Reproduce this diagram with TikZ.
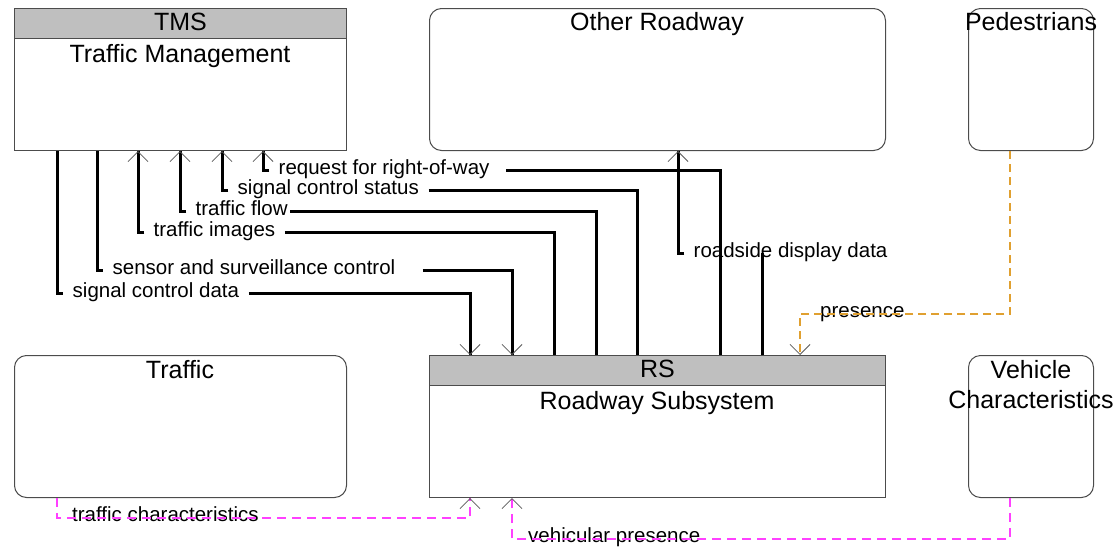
\documentclass[tikz,border=0pt]{standalone}
\usepackage{fontspec}
\setmainfont{Liberation Sans}
\usetikzlibrary{arrows.meta, positioning}

\definecolor{orng}{HTML}{E0A030}
\definecolor{mgnt}{HTML}{FF40FF}

\begin{document}
\begin{tikzpicture}[
    x=1pt, y=-1pt,
    font=\fontsize{20.5}{24}\selectfont,
    ent/.style={draw=black!70, line width=1pt, anchor=north west,
                minimum height=142pt, inner sep=0pt},
    rnd/.style={ent, rounded corners=12pt},
    hdr/.style={draw=black!70, line width=1pt, fill=black!25, anchor=north west,
                minimum height=30pt, inner sep=0pt, text height=18pt, text depth=5pt,
                font=\fontsize{25}{30}\selectfont},
    ttl/.style={anchor=base, inner sep=0pt, font=\fontsize{25}{30}\selectfont},
    lab/.style={anchor=west, inner xsep=9.5pt, inner ysep=0pt,
                text height=12pt, text depth=4pt},
    sig/.style={line width=3pt},
    pres/.style={line width=1.3pt, dash pattern=on 8pt off 5pt, draw=orng},
    veh/.style={line width=1.3pt, dash pattern=on 9pt off 6pt, draw=mgnt},
    arr/.style={postaction={draw, -{Straight Barb[length=10pt, width=20pt,
                line width=0.8pt, color=black!65]}}},
  ]
  \useasboundingbox (0,0) rectangle (1117,549);

  %% ---- entities ----------------------------------------------------
  \node[ent, minimum width=332pt] (tms) at (14,8) {};
  \node[hdr, minimum width=332pt] (tmsh) at (14,8) {TMS};
  \node[ttl] at (180,62) {Traffic Management};

  \node[rnd, minimum width=456pt] (orw) at (429,8) {};
  \node[ttl] at (657,30) {Other Roadway};

  \node[rnd, minimum width=125pt] (ped) at (968,8) {};
  \node[ttl] at (1031,30) {Pedestrians};

  \node[rnd, minimum width=332pt] (trf) at (14,355) {};
  \node[ttl] at (180,378) {Traffic};

  \node[ent, minimum width=456pt] (rs) at (429,355) {};
  \node[hdr, minimum width=456pt] (rsh) at (429,355) {RS};
  \node[ttl] at (657,409) {Roadway Subsystem};

  \node[rnd, minimum width=125pt] (vc) at (968,355) {};
  \node[ttl] at (1031,378) {Vehicle};
  \node[ttl] at (1031,408) {Characteristics};

  %% ---- flow labels -------------------------------------------------
  \node[lab] (l1) at (63,293)  {signal control data};
  \node[lab] (l2) at (103,270) {sensor and surveillance control};
  \node[lab] (l3) at (144,232) {traffic images};
  \node[lab] (l4) at (186,211) {traffic flow};
  \node[lab] (l5) at (228,190) {signal control status};
  \node[lab] (l6) at (269,170) {request for right-of-way};
  \node[lab] (l7) at (684,253) {roadside display data};
  \node[lab] (l8) at (810.5,313) {presence};
  \node[lab] (l9) at (62.5,517) {traffic characteristics};
  \node[lab] (l10) at (518.5,538) {vehicular presence};

  %% ---- TMS to RS ---------------------------------------------------
  \draw[sig] ([xshift=43]tms.south west) |- (l1.west);
  \draw[sig, arr] (l1.east) -| ([xshift=41]rs.north west);
  \draw[sig] ([xshift=83]tms.south west) |- (l2.west);
  \draw[sig, arr] ([xshift=18]l2.east) -| ([xshift=83]rs.north west);

  %% ---- RS to TMS ---------------------------------------------------
  \draw[sig, arr] (l3.west) -| ([xshift=124]tms.south west);
  \draw[sig] (l3.east) -| ([xshift=125]rs.north west);
  \draw[sig, arr] (l4.west) -| ([xshift=166]tms.south west);
  \draw[sig] ([xshift=-7]l4.east) -| ([xshift=167]rs.north west);
  \draw[sig, arr] (l5.west) -| ([xshift=208]tms.south west);
  \draw[sig] (l5.east) -| ([xshift=208]rs.north west);
  \draw[sig, arr] (l6.west) -| ([xshift=249]tms.south west);
  \draw[sig] ([xshift=7]l6.east) -| ([xshift=291]rs.north west);

  %% ---- RS to Other Roadway -----------------------------------------
  \coordinate (rd) at ([xshift=333]rs.north west);
  \draw[sig] (rd) -- (rd |- l7.center);
  \draw[sig, arr] (l7.west) -| ([xshift=249]orw.south west);

  %% ---- dashed terminator flows -------------------------------------
  \draw[pres, arr] ([xshift=42]ped.south west) -- ++(0,163)
    -| ([xshift=371]rs.north west);
  \draw[veh, arr] ([xshift=43]trf.south west) -- ++(0,20)
    -| ([xshift=41]rs.south west);
  \draw[veh, arr] ([xshift=42]vc.south west) -- ++(0,41)
    -| ([xshift=83]rs.south west);

\end{tikzpicture}
\end{document}
